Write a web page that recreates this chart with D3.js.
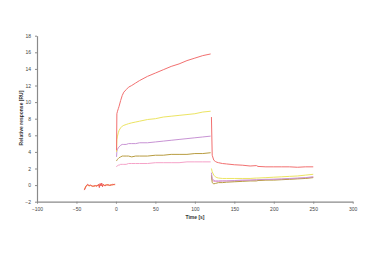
<!DOCTYPE html>
<html><head><meta charset="utf-8">
<script src="https://cdn.jsdelivr.net/npm/d3@7"></script>
<style>body{margin:0;background:#fff}svg{display:block}text{font-family:"Liberation Sans",Arial,sans-serif}</style>
</head><body><svg id="c" width="376" height="256"></svg>
<script>
// ---- data ----
const xTicks = [-100,-50,0,50,100,150,200,250,300];
const yTicks = [-2,0,2,4,6,8,10,12,14,16,18];
const baseTime = [-40,-38,-36,-34,-32,-30,-28,-26,-24,-22,-21,-20,-19,-18,-17,-16,-15,-14,-12,-10,-8,-6,-4,-2,-1];
const baseRed  = [-0.6,-0.2,0.1,-0.05,0.0,-0.15,-0.1,-0.05,-0.15,0.1,-0.3,0.2,-0.1,0.25,-0.2,0.1,0.0,-0.1,0.0,0.05,-0.05,0.0,0.1,0.05,0.1];
const baseOrange = [-0.5,-0.1,0.0,-0.1,-0.05,-0.1,-0.15,-0.1,-0.05,0.0,-0.1,0.1,-0.05,0.0,-0.1,0.05,-0.05,0.0,0.05,0.0,0.0,0.05,0.0,0.1,0.05];
const assocTime = [0.8,1.2,2,3,4,6,8,10,13,16,20,25,30,40,50,60,70,80,90,100,110,120];
const dissTime  = [121,122,124,126,128,130,135,140,150,160,170,178,180,190,200,210,220,230,240,250];
const seriesNames = ["red","yellow","purple","olive","pink"];
const colors = ["#f27070","#ece462","#c893d4","#b89c40","#f5a2c8"];
const assocValues = [
  [4.2,8.6,8.9,9.2,9.5,10.2,10.8,11.2,11.5,11.8,12.0,12.3,12.6,13.1,13.5,13.9,14.3,14.6,15.0,15.3,15.6,15.8],
  [4.0,5.5,5.9,6.3,6.6,6.9,7.1,7.2,7.3,7.4,7.5,7.6,7.7,7.9,8.0,8.2,8.3,8.4,8.5,8.6,8.8,8.9],
  [3.4,4.1,4.3,4.5,4.6,4.8,4.9,4.9,4.9,5.0,5.0,5.0,5.1,5.1,5.2,5.3,5.4,5.5,5.6,5.7,5.8,5.9],
  [2.9,3.0,3.1,3.2,3.3,3.4,3.5,3.5,3.5,3.5,3.4,3.5,3.5,3.5,3.6,3.6,3.7,3.7,3.7,3.8,3.8,3.9],
  [2.2,2.3,2.35,2.4,2.4,2.5,2.5,2.5,2.5,2.6,2.6,2.6,2.6,2.6,2.7,2.7,2.7,2.7,2.8,2.8,2.8,2.8]
];
const dissValues = [
  [8.2,3.6,3.0,2.85,2.75,2.7,2.6,2.55,2.45,2.4,2.3,2.35,2.25,2.2,2.2,2.2,2.2,2.15,2.2,2.2],
  [2.0,1.6,1.2,1.0,0.9,0.85,0.8,0.8,0.8,0.8,0.8,0.85,0.85,0.9,0.95,1.0,1.05,1.1,1.2,1.3],
  [1.5,0.8,0.55,0.5,0.5,0.5,0.5,0.5,0.55,0.6,0.6,0.65,0.65,0.7,0.7,0.75,0.8,0.85,0.9,1.0],
  [1.2,0.3,0.15,0.2,0.25,0.3,0.3,0.35,0.4,0.45,0.5,0.5,0.55,0.6,0.6,0.65,0.7,0.75,0.8,0.9],
  [1.0,0.6,0.45,0.45,0.45,0.45,0.5,0.5,0.5,0.55,0.6,0.6,0.6,0.65,0.7,0.7,0.75,0.8,0.85,0.95]
];

// ---- chart ----
const svg = d3.select("#c");
const x = d3.scaleLinear().domain([-100,300]).range([37,352.7]);
const y = d3.scaleLinear().domain([-2,18]).range([201.7,35.7]);
const line = d3.line().x(d=>x(d[0])).y(d=>y(d[1]));

const drawOrder = [4,3,2,1,0];
drawOrder.forEach(i=>{
  const a = assocTime.map((t,k)=>[t,assocValues[i][k]]);
  const d = dissTime.map((t,k)=>[t,dissValues[i][k]]);
  svg.append("path").attr("d",line(a)).attr("fill","none").attr("stroke",colors[i]).attr("stroke-width",1);
  svg.append("path").attr("d",line(d)).attr("fill","none").attr("stroke",colors[i]).attr("stroke-width",1);
});
svg.append("path").attr("d",line(baseTime.map((t,k)=>[t,baseOrange[k]]))).attr("fill","none").attr("stroke","#f2a040").attr("stroke-width",1);
svg.append("path").attr("d",line(baseTime.map((t,k)=>[t,baseRed[k]]))).attr("fill","none").attr("stroke","#f05a5a").attr("stroke-width",1);

const gx = svg.append("g").attr("transform",`translate(0,${y(-2)})`)
  .call(d3.axisBottom(x).tickValues(xTicks).tickSize(2).tickSizeOuter(0));
const gy = svg.append("g").attr("transform",`translate(${x(-100)},0)`)
  .call(d3.axisLeft(y).tickValues(yTicks).tickSize(2).tickSizeOuter(0));
[gx,gy].forEach(g=>{
  g.select(".domain").attr("stroke","#8a8a8a").attr("stroke-width",1.2);
  g.selectAll(".tick line").attr("stroke","#8a8a8a");
  g.selectAll(".tick text").attr("fill","#444").style("font-size","5px").style("font-family","Liberation Sans, Arial, sans-serif");
});
gx.selectAll(".tick text").attr("dy","0.9em");
gy.selectAll(".tick text").attr("x",-6);

svg.append("text").attr("x",195).attr("y",219).attr("text-anchor","middle")
  .style("font-size","5px").style("font-weight","bold").attr("fill","#333").text("Time [s]");
svg.append("text").attr("transform","translate(23,118) rotate(-90)").attr("text-anchor","middle")
  .style("font-size","5px").style("font-weight","bold").attr("fill","#333").text("Relative response [RU]");
</script></body></html>
